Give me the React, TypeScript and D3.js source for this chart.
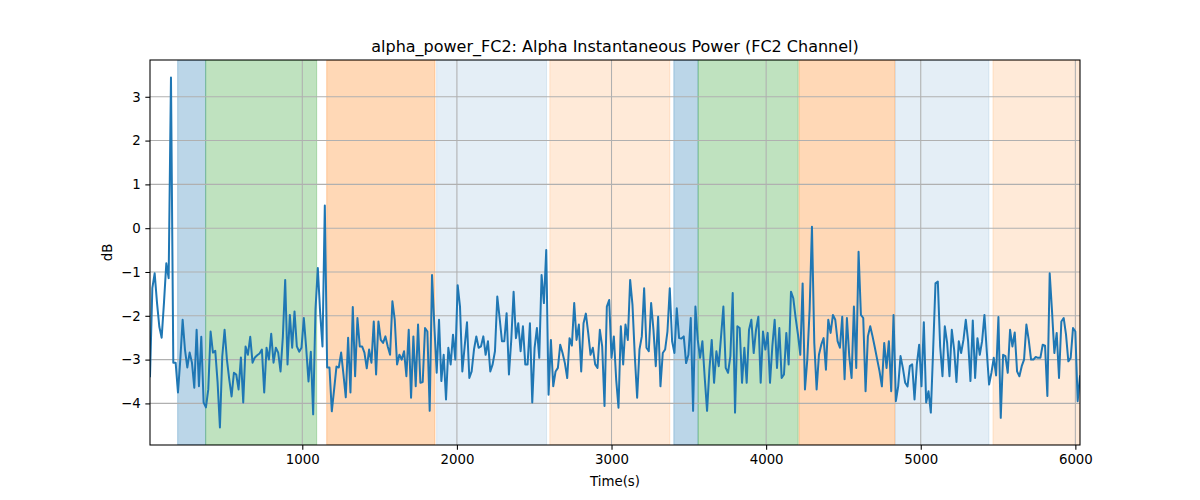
import React, { useEffect, useRef } from 'react';
import * as d3 from 'd3';

const alphaPower: number[] = [
  -3.38, -1.37, -1.03, -1.7, -2.25, -2.5, -1.7, -0.8, -1.14, 3.44, -3.07, -3.07, -3.75, -3.0, -2.09, -2.77,
  -3.18, -2.84, -3.07, -3.64, -2.32, -3.61, -2.48, -3.98, -4.09, -3.68, -2.36, -2.84, -2.8, -3.52, -4.55, -2.93,
  -2.32, -3.0, -3.45, -3.84, -3.3, -3.34, -3.68, -2.95, -3.98, -2.7, -2.89, -2.48, -3.07, -2.95, -2.9, -2.86,
  -2.77, -3.75, -2.73, -3.0, -2.41, -3.07, -2.73, -2.84, -3.27, -2.48, -1.18, -3.11, -1.98, -2.73, -1.9, -2.7,
  -2.82, -2.73, -2.05, -2.73, -3.5, -2.82, -4.25, -1.86, -0.91, -1.93, -2.7, 0.52, -3.18, -3.18, -4.18, -3.68,
  -3.16, -3.18, -2.84, -3.34, -3.86, -2.5, -3.75, -1.8, -3.38, -2.05, -2.7, -2.7, -2.84, -3.2, -2.77, -3.07,
  // 375px onwards
  -2.13, -3.34, -2.13, -2.55, -2.62, -2.47, -2.7, -2.89, -1.67, -2.09, -3.11, -2.89, -3.0, -2.81, -3.38, -2.32,
  -3.87, -2.47, -3.61, -2.2, -3.53, -3.51, -2.28, -2.36, -4.17, -1.07, -2.24, -3.3, -2.09, -3.49, -2.89, -3.91,
  -2.73, -3.11, -2.43, -3.0, -1.3, -1.79, -3.27, -2.7, -2.15, -3.42, -3.27, -2.77, -2.47, -2.73, -2.7, -2.47,
  -2.89, -2.58, -3.27, -3.11,
  -2.81, -1.56, -2.05, -2.58, -2.58, -1.94, -3.34, -2.55, -1.45, -2.51, -2.17, -2.81, -2.24, -3.11, -3.11, -2.17,
  -3.98, -2.73, -2.28, -2.96, -1.07, -1.71, -0.5, -3.8, -2.55, -3.61, -3.27, -3.19, -2.66, -2.85, -3.08, -3.42,
  -2.51, -2.68, -1.71, -2.55, -2.2, -3.27, -2.17, -1.95, -2.39, -2.89, -2.73, -3.11, -3.19, -2.32, -2.7, -4.06,
  -1.79,
  -1.64, -2.96, -2.47, -3.45, -4.1, -2.24, -3.11, -2.2, -2.55, -1.18, -1.75, -2.92, -3.87, -2.77, -2.47, -1.37,
  -2.73, -2.81, -1.71, -2.32, -3.15, -2.02, -3.61, -2.85, -2.77, -2.36, -1.37, -2.58, -2.85, -1.83, -2.51, -2.52,
  -2.47, -3.08, -2.89, -2.05, -4.17, -1.79, -2.55, -2.96, -2.58, -3.42, -4.17, -3.23, -2.55, -3.53, -2.81, -3.15,
  -2.47, -1.79,
  -3.19, -3.3, -2.92, -1.48, -4.21, -2.24, -2.28, -3.53, -2.73, -3.53, -2.32, -2.09, -2.85, -2.32, -2.02, -3.53,
  -2.36, -2.77, -2.39, -3.53, -2.7, -2.09, -3.19, -2.28, -3.42, -3.34, -2.39, -3.11, -1.45, -1.6, -2.05, -2.43,
  -2.89, -1.26, -3.68, -3.0, -1.86, 0.03, -2.62, -3.68, -2.89, -2.66, -2.51, -3.23, -2.09, -2.39, -1.98, -2.09,
  -2.58,
  -2.73, -2.02, -3.45, -2.05, -2.92, -3.42, -1.79, -3.19, -0.54, -1.98, -2.05, -3.72, -2.47, -2.24, -2.47, -2.73,
  -3.0, -3.27, -3.61, -2.62, -3.19, -2.58, -3.72, -1.98, -3.95, -3.61, -2.92, -3.19, -3.53, -3.61, -3.15, -3.11,
  -3.91, -3.11, -2.66, -3.61, -2.15, -3.98, -3.72, -4.21, -2.77, -1.26, -1.22, -2.7, -3.38, -2.24, -2.62, -3.38,
  -2.32, -2.77,
  -3.51, -2.58, -2.85, -2.55, -2.09, -2.58, -3.49, -2.11, -3.42, -2.51, -2.89, -2.58, -1.98, -2.81, -3.57, -3.3,
  -2.96, -3.36, -2.03, -4.33, -2.89, -2.92, -3.3, -2.32, -2.7, -2.38, -3.27, -3.38, -3.15, -3.0, -2.2, -2.55,
  -3.0, -3.0, -2.94, -2.96, -2.96, -2.66, -2.68, -3.83, -1.03, -1.9, -2.85, -2.39, -3.42, -2.13, -2.05, -2.43,
  -3.04, -2.96, -2.28, -2.36, -3.95, -3.38,
];

const timeStart = 15;
const timeEnd = 6030;

// shaded stages: [start, end, fill]
const bandStarts = [194, 375, 1158, 1869, 2601, 3403, 3560, 4213, 4836, 5467];
const bandEnds = [375, 1093, 1858, 2580, 3377, 3560, 4207, 4832, 5441, 6030];
const bandColors = [
  'rgba(31,119,180,0.3)', 'rgba(44,160,44,0.3)', 'rgba(255,127,14,0.3)', 'rgba(31,119,180,0.12)', 'rgba(255,127,14,0.16)',
  'rgba(31,119,180,0.3)', 'rgba(44,160,44,0.3)', 'rgba(255,127,14,0.3)', 'rgba(31,119,180,0.12)', 'rgba(255,127,14,0.16)',
];

const xTicks = [1000, 2000, 3000, 4000, 5000, 6000];
const yTicks = [-4, -3, -2, -1, 0, 1, 2, 3];

const AlphaPowerChart: React.FC = () => {
  const svgRef = useRef<SVGSVGElement>(null);

  useEffect(() => {
    const svgEl = d3.select(svgRef.current);
    svgEl.selectAll('*').remove();

    const W = 1200;
    const H = 500;
    const margin = { top: 60, right: 120, bottom: 55, left: 150 };
    const width = W - margin.left - margin.right;
    const height = H - margin.top - margin.bottom;
    const font = 'DejaVu Sans, sans-serif';

    const step = (timeEnd - timeStart) / (alphaPower.length - 1);
    const points = alphaPower.map((v, i) => ({ t: timeStart + i * step, v }));

    const x = d3.scaleLinear().domain([timeStart, timeEnd]).range([0, width]);
    const [lo, hi] = d3.extent(alphaPower) as [number, number];
    const pad = (hi - lo) * 0.05;
    const y = d3.scaleLinear().domain([lo - pad, hi + pad]).range([height, 0]);

    svgEl.attr('width', W).attr('height', H).style('background', '#fff');

    svgEl.append('text')
      .attr('x', margin.left + width / 2)
      .attr('y', margin.top - 8)
      .attr('text-anchor', 'middle')
      .style('font-family', font)
      .style('font-size', '16px')
      .text('alpha_power_FC2: Alpha Instantaneous Power (FC2 Channel)');

    const g = svgEl.append('g').attr('transform', `translate(${margin.left},${margin.top})`);

    g.append('defs').append('clipPath').attr('id', 'plot-clip')
      .append('rect').attr('width', width).attr('height', height);

    // stage bands
    g.append('g').attr('clip-path', 'url(#plot-clip)')
      .selectAll('rect')
      .data(bandStarts.map((s, i) => ({ s, e: bandEnds[i], c: bandColors[i] })))
      .enter()
      .append('rect')
      .attr('x', d => x(d.s))
      .attr('y', 0)
      .attr('width', d => x(d.e) - x(d.s))
      .attr('height', height)
      .attr('fill', d => d.c)
      .attr('stroke', d => d.c)
      .attr('stroke-width', 1);

    // grid
    g.append('g')
      .selectAll('line.gx')
      .data(xTicks)
      .enter()
      .append('line')
      .attr('x1', d => x(d)).attr('x2', d => x(d))
      .attr('y1', 0).attr('y2', height)
      .attr('stroke', '#b0b0b0').attr('stroke-width', 1.07);
    g.append('g')
      .selectAll('line.gy')
      .data(yTicks)
      .enter()
      .append('line')
      .attr('x1', 0).attr('x2', width)
      .attr('y1', d => y(d)).attr('y2', d => y(d))
      .attr('stroke', '#b0b0b0').attr('stroke-width', 1.07);

    // signal
    const line = d3.line<{ t: number; v: number }>()
      .x(d => x(d.t))
      .y(d => y(d.v));
    g.append('path')
      .datum(points)
      .attr('clip-path', 'url(#plot-clip)')
      .attr('d', line)
      .attr('fill', 'none')
      .attr('stroke', '#1f77b4')
      .attr('stroke-width', 2)
      .attr('stroke-linejoin', 'round')
      .attr('stroke-linecap', 'square');

    // axes
    const xAxis = g.append('g')
      .attr('transform', `translate(0,${height})`)
      .call(d3.axisBottom(x).tickValues(xTicks).tickSize(4.67).tickPadding(4.67).tickFormat(d3.format('d')));
    const yAxis = g.append('g')
      .call(d3.axisLeft(y).tickValues(yTicks).tickSize(4.67).tickPadding(4.67).tickFormat(d3.format('d')));
    [xAxis, yAxis].forEach(ax => {
      ax.select('.domain').remove();
      ax.selectAll('line').attr('stroke', '#000').attr('stroke-width', 1.07);
      ax.selectAll('text')
        .style('font-family', font)
        .style('font-size', '13.33px')
        .attr('fill', '#000');
    });
    // hyphen-minus like matplotlib's minus sign
    yAxis.selectAll('text').text((d: any) => (d < 0 ? '\u2212' + Math.abs(d) : String(d)));

    g.append('rect')
      .attr('width', width)
      .attr('height', height)
      .attr('fill', 'none')
      .attr('stroke', '#000')
      .attr('stroke-width', 1.07);

    svgEl.append('text')
      .attr('x', margin.left + width / 2)
      .attr('y', 486)
      .attr('text-anchor', 'middle')
      .style('font-family', font)
      .style('font-size', '13.33px')
      .text('Time(s)');

    svgEl.append('text')
      .attr('transform', `translate(112,${margin.top + height / 2}) rotate(-90)`)
      .attr('text-anchor', 'middle')
      .style('font-family', font)
      .style('font-size', '13.33px')
      .text('dB');
  }, []);

  return <svg ref={svgRef} style={{ position: 'absolute', left: 0, top: 0 }}></svg>;
};

export default function App() {
  return <AlphaPowerChart />;
}
